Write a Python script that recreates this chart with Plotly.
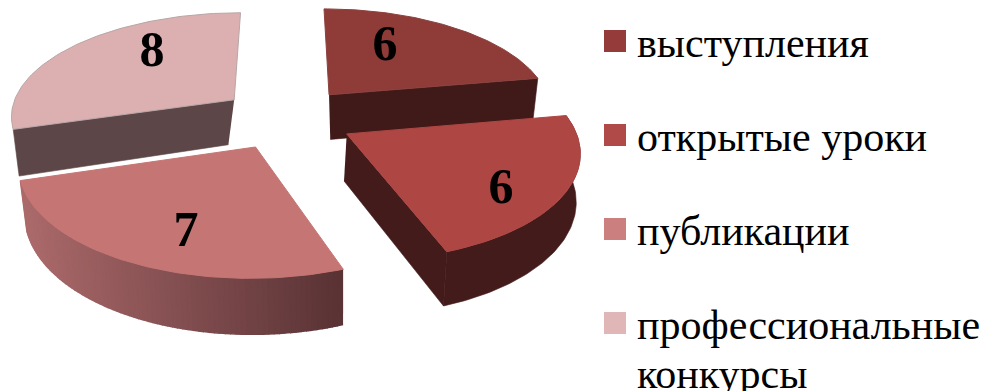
import numpy as np
import plotly.graph_objects as go

categories = ["выступления", "открытые уроки", "публикации", "профессиональные<br>конкурсы"]
values = [6, 6, 7, 8]

top_colors = ["#8f3b38", "#ae4644", "#c57674", "#dcb0b0"]
edge_colors = ["#8a4240", "#ae4644", "#c57674", "#b8a6a6"]
legend_colors = ["#953c3a", "#b04a48", "#cb7f7f", "#e0b6b6"]
face_colors = ["#3f1a18", "#441b1b", None, "#5c4647"]
rim_colors = [None, "#441b1b", ("#ad6b6c", "#5a3335"), None]
face_at_end = [True, True, None, False]
tilts = [(370, 0.03), (-100, 0.006), (340, 0.02), (125, 0.053)]
label_pos = [(385, 47), (501, 190), (186, 233), (152, 53)]

W, H = 986, 391
CX, CY = 287, 118
RX, RY, PERSP, EXPLODE, DEPTH = 225, 104, 0.14, 0.3, 46

frac = np.array(values, dtype=float) / sum(values)
ends = np.cumsum(frac) * 2 * np.pi
starts = ends - frac * 2 * np.pi


def project(wx, wd):
    s = 1 / (1 + PERSP * wd)
    return CX + RX * wx * s, CY - RY * wd * s, s


def down(x, y, s, tilt):
    return x + (tilt[0] - x) * tilt[1], y + DEPTH * s


def poly(fig, xs, ys, color, line=None, width=0.6):
    fig.add_trace(go.Scatter(x=list(xs), y=list(ys), mode="lines", fill="toself", fillcolor=color,
                             line=dict(color=line or color, width=width), hoverinfo="skip", showlegend=False))


def hexrgb(c):
    return np.array([int(c[q:q + 2], 16) for q in (1, 3, 5)], dtype=float)


fig = go.Figure()
for i in [3, 0, 2, 1]:
    a0, a1 = starts[i], ends[i]
    mid = (a0 + a1) / 2
    ex, ed = EXPLODE * np.sin(mid), EXPLODE * np.cos(mid)
    th = np.linspace(a0, a1, 81)
    rx_, ry_, rs = project(ex + np.sin(th), ed + np.cos(th))
    ax, ay, asc = project(ex, ed)
    t = tilts[i]
    if face_colors[i]:
        k = -1 if face_at_end[i] else 0
        bx0, by0 = down(ax, ay, asc, t)
        bx1, by1 = down(rx_[k], ry_[k], rs[k], t)
        poly(fig, [ax, rx_[k], bx1, bx0], [ay, ry_[k], by1, by0], face_colors[i])
    c = rim_colors[i]
    if c:
        bx, by = down(rx_, ry_, rs, t)
        if isinstance(c, tuple):
            c0, c1 = hexrgb(c[0]), hexrgb(c[1])
            xmin, xmax = rx_.min(), rx_.max()
            for j in range(len(th) - 2, -1, -1):
                col = c0 + (c1 - c0) * (rx_[j] - xmin) / (xmax - xmin)
                colr = "rgb(%d,%d,%d)" % tuple(col)
                poly(fig, [rx_[j], rx_[j + 1], bx[j + 1], bx[j]], [ry_[j], ry_[j + 1], by[j + 1], by[j]], colr, width=1.6)
        else:
            poly(fig, np.r_[rx_, bx[::-1]], np.r_[ry_, by[::-1]], c)
    poly(fig, np.r_[ax, rx_, ax], np.r_[ay, ry_, ay], top_colors[i], line=edge_colors[i], width=1)

for i, v in enumerate(values):
    fig.add_trace(go.Scatter(x=[label_pos[i][0]], y=[label_pos[i][1]], mode="text", text=[str(v)],
                             textfont=dict(family="Liberation Serif", size=50, color="#000000", weight="bold"),
                             textposition="middle center", hoverinfo="skip", showlegend=False))

leg_y = [41, 135, 229, 323]
fig.add_trace(go.Scatter(x=[615] * 4, y=leg_y, mode="markers",
                         marker=dict(symbol="square", size=22, color=legend_colors, line=dict(width=0)),
                         hoverinfo="skip", showlegend=False))
annotations = []
for name, y in zip(categories, leg_y):
    for n, part in enumerate(name.split("<br>")):
        annotations.append(dict(x=636, y=y + 2 + 49 * n, xref="x", yref="y", text=part, showarrow=False,
                                xanchor="left", yanchor="middle", xshift=-1,
                                font=dict(family="Liberation Serif", size=42, color="#000000")))

fig.update_layout(width=W, height=H, margin=dict(l=0, r=0, t=0, b=0), paper_bgcolor="white", plot_bgcolor="white",
                  xaxis=dict(range=[0, W], visible=False, fixedrange=True),
                  yaxis=dict(range=[H, 0], visible=False, fixedrange=True),
                  annotations=annotations, showlegend=False)
fig.write_html("out.html", config={"displayModeBar": False},
               post_script="document.body.style.margin='0';document.documentElement.style.overflow='hidden';")
